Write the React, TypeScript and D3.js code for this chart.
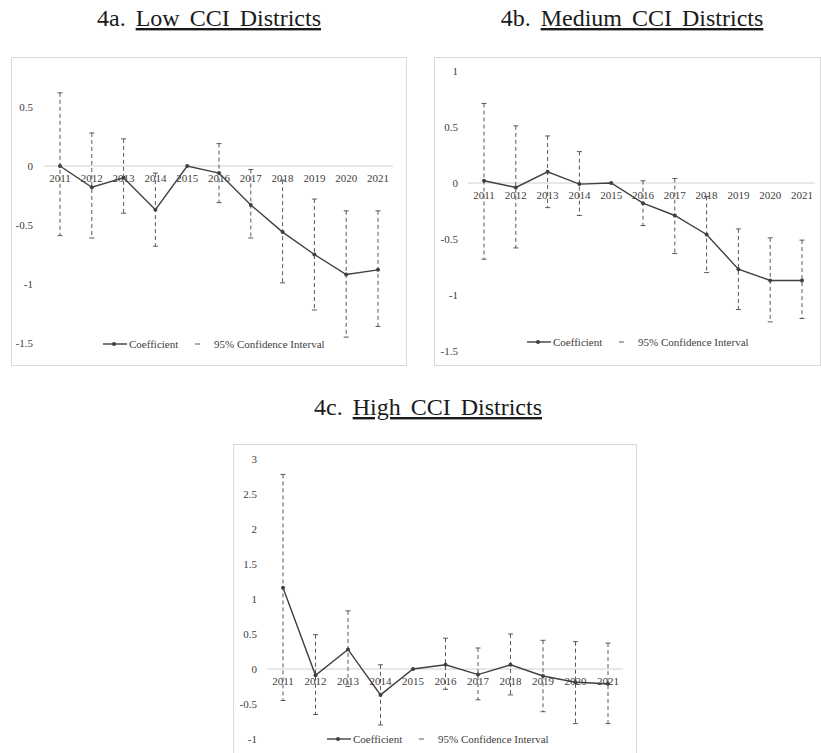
import React from "react";
import { scaleLinear, scalePoint, line } from "d3";

const years = ["2011", "2012", "2013", "2014", "2015", "2016", "2017", "2018", "2019", "2020", "2021"];

// 4a. Low CCI
const lowCoef = [0, -0.18, -0.1, -0.37, 0, -0.06, -0.33, -0.56, -0.75, -0.92, -0.88];
const lowUpper = [0.62, 0.28, 0.23, -0.06, null, 0.19, -0.03, -0.12, -0.28, -0.38, -0.38];
const lowLower = [-0.59, -0.61, -0.4, -0.68, null, -0.31, -0.61, -0.99, -1.22, -1.45, -1.36];
const lowTicks = [-1.5, -1, -0.5, 0, 0.5];

// 4b. Medium CCI
const medCoef = [0.02, -0.04, 0.1, -0.01, 0, -0.18, -0.29, -0.46, -0.77, -0.87, -0.87];
const medUpper = [0.71, 0.51, 0.42, 0.28, null, 0.02, 0.04, -0.12, -0.41, -0.49, -0.51];
const medLower = [-0.68, -0.58, -0.22, -0.29, null, -0.38, -0.63, -0.8, -1.13, -1.24, -1.21];
const medTicks = [-1.5, -1, -0.5, 0, 0.5, 1];

// 4c. High CCI
const highCoef = [1.16, -0.09, 0.28, -0.37, 0, 0.06, -0.08, 0.06, -0.1, -0.19, -0.21];
const highUpper = [2.78, 0.49, 0.83, 0.06, null, 0.44, 0.3, 0.5, 0.41, 0.39, 0.37];
const highLower = [-0.45, -0.65, -0.25, -0.8, null, -0.29, -0.44, -0.37, -0.61, -0.78, -0.78];
const highTicks = [-1, -0.5, 0, 0.5, 1, 1.5, 2, 2.5, 3];

const FONT = "Liberation Serif, Tinos, Times New Roman, DejaVu Serif, serif";
const INK = "#404040";

type PanelProps = {
  prefix: string;
  title: string;
  titleX: number;
  titleY: number;
  frame: [number, number, number, number];
  ticks: number[];
  yDomain: [number, number];
  yRange: [number, number];
  xRange: [number, number];
  zeroEnd: [number, number];
  labelRight: number;
  coef: number[];
  upper: (number | null)[];
  lower: (number | null)[];
  legendY: number;
  legendX: number;
};

function Panel(p: PanelProps) {
  const y = scaleLinear().domain(p.yDomain).range(p.yRange);
  const x = scalePoint<string>().domain(years).range(p.xRange);
  const path = line<number>()
    .x((_, i) => x(years[i]) as number)
    .y((d) => y(d));
  const [fx0, fy0, fx1, fy1] = p.frame;
  const lx = p.legendX;
  const small = { fontFamily: FONT, fontSize: 11, fill: INK };
  return (
    <g>
      <text x={p.titleX} y={p.titleY} textAnchor="middle" style={{ fontFamily: FONT, fontSize: 24, fill: "#1a1a1a", wordSpacing: 4 }}>
        <tspan>{p.prefix} </tspan>
        <tspan style={{ textDecoration: "underline" }}>{p.title}</tspan>
      </text>
      <rect x={fx0 + 0.5} y={fy0 + 0.5} width={fx1 - fx0} height={fy1 - fy0} fill="#fff" stroke="#d9d9d9" />
      {p.ticks.map((t) => (
        <text key={t} x={p.labelRight} y={y(t)} dy="0.35em" textAnchor="end" style={small}>
          {t}
        </text>
      ))}
      <line x1={p.zeroEnd[0]} x2={p.zeroEnd[1]} y1={y(0)} y2={y(0)} stroke="#d0d0d0" strokeWidth={1} />
      {years.map((yr) => (
        <text key={yr} x={x(yr)} y={y(0) + 16} textAnchor="middle" style={small}>
          {yr}
        </text>
      ))}
      {years.map((yr, i) => {
        const u = p.upper[i];
        const l = p.lower[i];
        if (u == null || l == null) return null;
        const cx = x(yr) as number;
        return (
          <g key={yr} stroke="#595959" strokeWidth={1}>
            <line x1={cx} x2={cx} y1={y(u)} y2={y(l)} strokeDasharray="4,3" />
            <line x1={cx - 2.5} x2={cx + 2.5} y1={y(u)} y2={y(u)} />
            <line x1={cx - 2.5} x2={cx + 2.5} y1={y(l)} y2={y(l)} />
          </g>
        );
      })}
      <path d={path(p.coef) || ""} fill="none" stroke={INK} strokeWidth={1.4} />
      {p.coef.map((v, i) => (
        <circle key={i} cx={x(years[i])} cy={y(v)} r={2} fill={INK} />
      ))}
      <g>
        <line x1={lx} x2={lx + 24} y1={p.legendY} y2={p.legendY} stroke={INK} strokeWidth={1.4} />
        <circle cx={lx + 11} cy={p.legendY} r={2} fill={INK} />
        <text x={lx + 26} y={p.legendY + 4} style={small}>
          Coefficient
        </text>
        <line x1={lx + 92} x2={lx + 97} y1={p.legendY} y2={p.legendY} stroke="#595959" strokeWidth={1} />
        <text x={lx + 111} y={p.legendY + 4} style={small}>
          95% Confidence Interval
        </text>
      </g>
    </g>
  );
}

export default function App() {
  return (
    <svg width={821} height={753} style={{ position: "absolute", left: 0, top: 0, background: "#fff" }}>
      <rect width={821} height={753} fill="#fff" />
      <Panel
        prefix="4a."
        title="Low CCI Districts"
        titleX={209}
        titleY={26}
        frame={[11, 57, 406, 365]}
        ticks={lowTicks}
        yDomain={[-1.5, 0.5]}
        yRange={[343, 107]}
        xRange={[60, 378]}
        zeroEnd={[44, 393]}
        labelRight={33}
        coef={lowCoef}
        upper={lowUpper}
        lower={lowLower}
        legendY={344}
        legendX={103}
      />
      <Panel
        prefix="4b."
        title="Medium CCI Districts"
        titleX={632}
        titleY={26}
        frame={[434, 57, 820, 365]}
        ticks={medTicks}
        yDomain={[-1.5, 1]}
        yRange={[351, 71]}
        xRange={[484, 802]}
        zeroEnd={[468, 815]}
        labelRight={458}
        coef={medCoef}
        upper={medUpper}
        lower={medLower}
        legendY={342}
        legendX={527}
      />
      <Panel
        prefix="4c."
        title="High CCI Districts"
        titleX={428}
        titleY={415}
        frame={[233, 444, 636, 770]}
        ticks={highTicks}
        yDomain={[-1, 3]}
        yRange={[739, 459]}
        xRange={[283, 608]}
        zeroEnd={[267, 623]}
        labelRight={257}
        coef={highCoef}
        upper={highUpper}
        lower={highLower}
        legendY={739}
        legendX={327}
      />
    </svg>
  );
}
